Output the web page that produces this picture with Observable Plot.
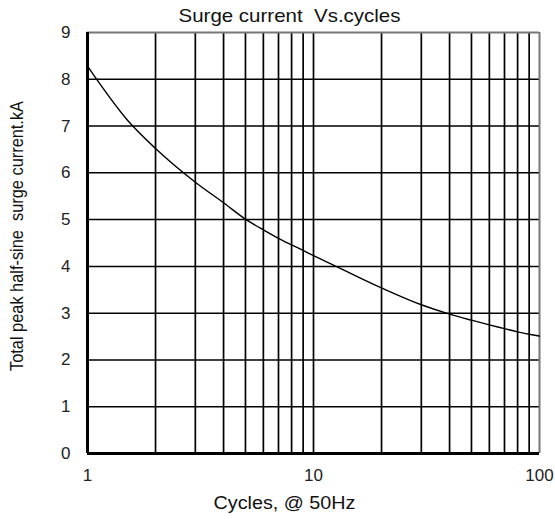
<!DOCTYPE html>
<html>
<head>
<meta charset="utf-8">
<script src="https://cdn.jsdelivr.net/npm/d3@7"></script>
<script src="https://cdn.jsdelivr.net/npm/@observablehq/plot@0.6"></script>
<style>
  html, body { margin: 0; padding: 0; background: #fff; }
</style>
</head>
<body>
<div id="chart"></div>
<script>
const titleText = "Surge current  Vs.cycles";
const xLabelText = "Cycles, @ 50Hz";
const yLabelText = "Total peak half-sine  surge current.kA";

const cycles   = [1, 1.5, 2, 3, 4, 5, 6, 7, 8, 9, 10, 12, 20, 30, 40, 50, 60, 70, 80, 90, 100];
const surgeKA  = [8.28, 7.13, 6.52, 5.80, 5.36, 5.01, 4.78, 4.60, 4.46, 4.34, 4.23, 4.05, 3.54, 3.18, 2.98, 2.85, 2.75, 2.67, 2.60, 2.55, 2.51];

const xTickValues = [1, 10, 100];
const xGridValues = [2, 3, 4, 5, 6, 7, 8, 9, 10, 20, 30, 40, 50, 60, 70, 80, 90];
const yTickValues = [0, 1, 2, 3, 4, 5, 6, 7, 8, 9];
const yGridValues = [1, 2, 3, 4, 5, 6, 7, 8];

const data = cycles.map((c, i) => ({c, v: surgeKA[i]}));

const chart = Plot.plot({
  width: 555,
  height: 519,
  marginTop: 32,
  marginBottom: 66,
  marginLeft: 87,
  marginRight: 16,
  style: {fontFamily: "'Liberation Sans', Arial, sans-serif", color: "#222", background: "#fff"},
  x: {type: "log", domain: [1, 100]},
  y: {domain: [0, 9]},
  marks: [
    Plot.ruleX(xGridValues, {stroke: "#000", strokeWidth: 1.7}),
    Plot.ruleY(yGridValues, {stroke: "#000", strokeWidth: 1.5}),
    Plot.ruleY([9], {stroke: "#777", strokeWidth: 2}),
    Plot.ruleX([100], {stroke: "#777", strokeWidth: 2}),
    Plot.ruleX([1], {stroke: "#000", strokeWidth: 3}),
    Plot.ruleY([0], {stroke: "#000", strokeWidth: 3}),
    Plot.line(data, {x: "c", y: "v", curve: "monotone-x", stroke: "#000", strokeWidth: 1.4}),
    Plot.axisX({ticks: xTickValues, tickFormat: d => String(d), tickSize: 0, tickPadding: 15, fontSize: 17, label: null}),
    Plot.axisY({ticks: yTickValues, tickSize: 0, tickPadding: 17, fontSize: 17, label: null}),
    Plot.text([titleText], {text: d => d, frameAnchor: "top", textAnchor: "middle", lineAnchor: "middle", dy: -17, dx: -24, fontSize: 19, fill: "#111", className: "t-title"}),
    Plot.text([xLabelText], {text: d => d, frameAnchor: "bottom", textAnchor: "middle", lineAnchor: "middle", dy: 50, dx: -29, fontSize: 18, fill: "#111", className: "t-xlabel"}),
    Plot.text([yLabelText], {text: d => d, frameAnchor: "left", textAnchor: "middle", lineAnchor: "middle", dx: -70, dy: -7, rotate: -90, fontSize: 18, fill: "#111", className: "t-ylabel"})
  ]
});
// fit label widths to the reference
const fits = [["t-title", 222], ["t-xlabel", 142], ["t-ylabel", 270]];
for (const [cls, len] of fits) {
  chart.querySelectorAll("." + cls + " text").forEach(t => {
    t.setAttribute("textLength", len);
    t.setAttribute("lengthAdjust", "spacingAndGlyphs");
  });
}
document.getElementById("chart").appendChild(chart);
</script>
</body>
</html>
